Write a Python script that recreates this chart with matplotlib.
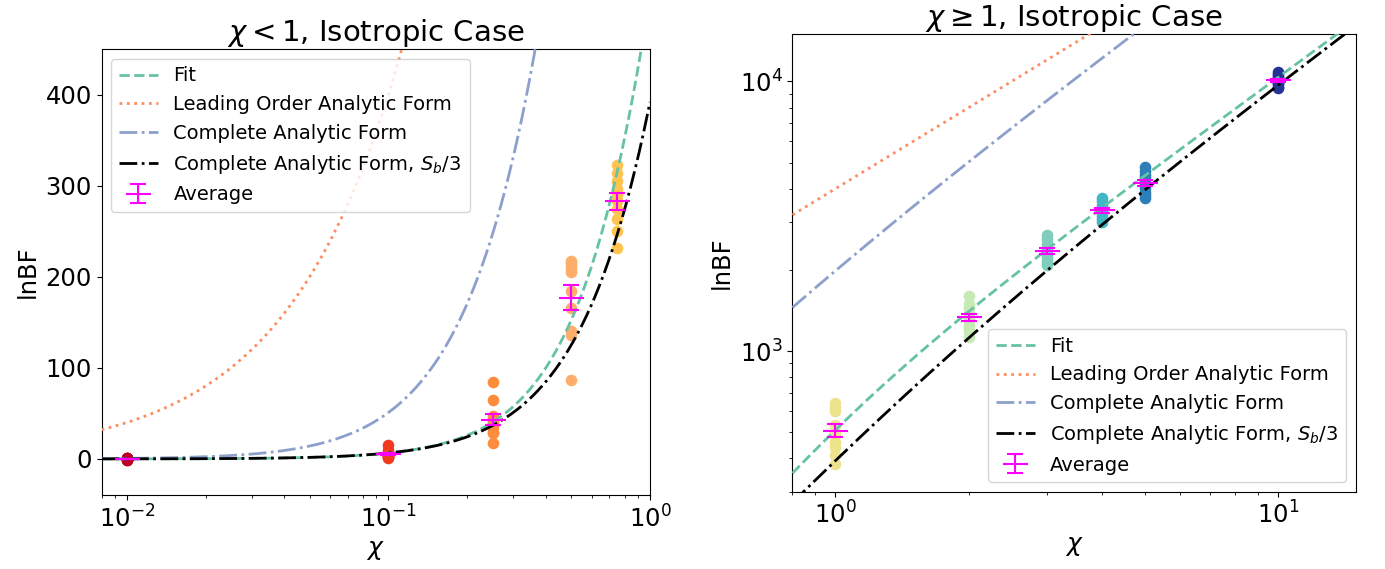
import numpy as np
import matplotlib
matplotlib.use("Agg")
import matplotlib.pyplot as plt

# ---------------- data ----------------
# chi < 1 panel
chi_low = [0.01, 0.1, 0.25, 0.5, 0.75]
colors_low = ['#bd0026', '#f03b20', '#fd8d3c', '#fdae6b', '#fec44f']
lnbf_low = [
    [-1.5, -1.0, -0.6, -0.3, 0.0, 0.0, 0.3, 0.6, 1.0, 1.5],
    [1, 2, 2, 3, 4, 5, 6, 7, 10, 15],
    [84, 65, 47, 44, 41, 38, 35, 30, 28, 17],
    [217, 215, 212, 208, 205, 184, 166, 140, 136, 87],
    [323, 314, 305, 296, 290, 283, 274, 263, 250, 232],
]
avg_low = [0.0, 5.5, 42.9, 177.0, 283.0]
err_low = [0.4, 1.5, 6.0, 13.5, 9.3]

# chi >= 1 panel
chi_high = [1, 2, 3, 4, 5, 10]
colors_high = ['#ede38c', '#c7e9b4', '#7fcdbb', '#41b6c4', '#2c7fb8', '#253494']
lnbf_high = [
    [640, 620, 600, 530, 500, 490, 460, 440, 410, 380],
    [1600, 1500, 1440, 1380, 1330, 1290, 1250, 1220, 1190, 1130],
    [2690, 2600, 2500, 2420, 2350, 2300, 2240, 2180, 2120, 2080],
    [3690, 3600, 3480, 3400, 3350, 3300, 3240, 3170, 3080, 3000],
    [4800, 4650, 4500, 4380, 4250, 4150, 4020, 3900, 3780, 3690],
    [10800, 10650, 10450, 10300, 10150, 10050, 9900, 9750, 9550, 9420],
]
avg_high = [507, 1333, 2348, 3331, 4212, 10102]
err_high = [28, 44, 62, 70, 115, 145]

# curve parameters
leading_amp = 4000.0                          # leading order: A * chi
complete_amp, complete_c, complete_q = 6411.0, 0.3, 0.8
sb_factor = 3.0                               # S_b/3 version: complete(chi / 3)
fit_amp, fit_c, fit_s, fit_q = 655.0, 1.0, 2.2, 0.8

xlim_low = (0.008, 1.0)
ylim_low = (-40, 450)
xlim_high = (0.8, 15)
ylim_high = (300, 15000)


def leading(x):
    return leading_amp * x


def complete(x):
    return complete_amp * x ** 2 / (1.0 + x / complete_c) ** complete_q


def complete_sb3(x):
    return complete(x / sb_factor)


def fit(x):
    return fit_amp * x ** 2 / (1.0 + (x / fit_c) ** fit_s) ** (fit_q / fit_s)


plt.rcParams['font.family'] = ['DejaVu Sans']
fig = plt.figure(figsize=(13.85, 5.69), dpi=100)
ax1 = fig.add_axes([0.0733, 0.1294, 0.396, 0.7845])
ax2 = fig.add_axes([0.5722, 0.1353, 0.4069, 0.805])

lw = 2.0
for ax, chis, cols, vals, avg, err, xlim, ylim, title, loglog, loc in [
    (ax1, chi_low, colors_low, lnbf_low, avg_low, err_low, xlim_low, ylim_low,
     r'$\chi < 1$, Isotropic Case', False, 'upper left'),
    (ax2, chi_high, colors_high, lnbf_high, avg_high, err_high, xlim_high, ylim_high,
     r'$\chi \geq 1$, Isotropic Case', True, 'lower right'),
]:
    for c, col, v in zip(chis, cols, vals):
        ax.scatter([c] * len(v), v, s=70, color=col, zorder=2, linewidths=0)
    xs = np.logspace(np.log10(xlim[0]), np.log10(xlim[1]), 500)
    ax.plot(xs, fit(xs), ls='--', color='#66c2a5', lw=lw, label='Fit', zorder=3)
    ax.plot(xs, leading(xs), ls=':', color='#fc8d62', lw=lw,
            label='Leading Order Analytic Form', zorder=3)
    ax.plot(xs, complete(xs), ls='-.', color='#8da0cb', lw=lw,
            label='Complete Analytic Form', zorder=3)
    ax.plot(xs, complete_sb3(xs), ls='-.', color='black', lw=lw,
            label=r'Complete Analytic Form, $S_b/3$', zorder=3)
    ax.errorbar(chis, avg, yerr=err, fmt='_', color='magenta', ms=18,
                mew=1.5, elinewidth=1.5, capsize=6, capthick=1.5,
                label='Average', zorder=5)
    ax.set_xscale('log')
    if loglog:
        ax.set_yscale('log')
    ax.set_xlim(*xlim)
    ax.set_ylim(*ylim)
    ax.set_title(title, fontsize=21)
    ax.set_xlabel(r'$\chi$', fontsize=18)
    ax.set_ylabel('lnBF', fontsize=17.5)
    ax.tick_params(axis='both', which='major', labelsize=17.5)
    ax.legend(loc=loc, fontsize=14)

fig.savefig('out.png', dpi=100)
